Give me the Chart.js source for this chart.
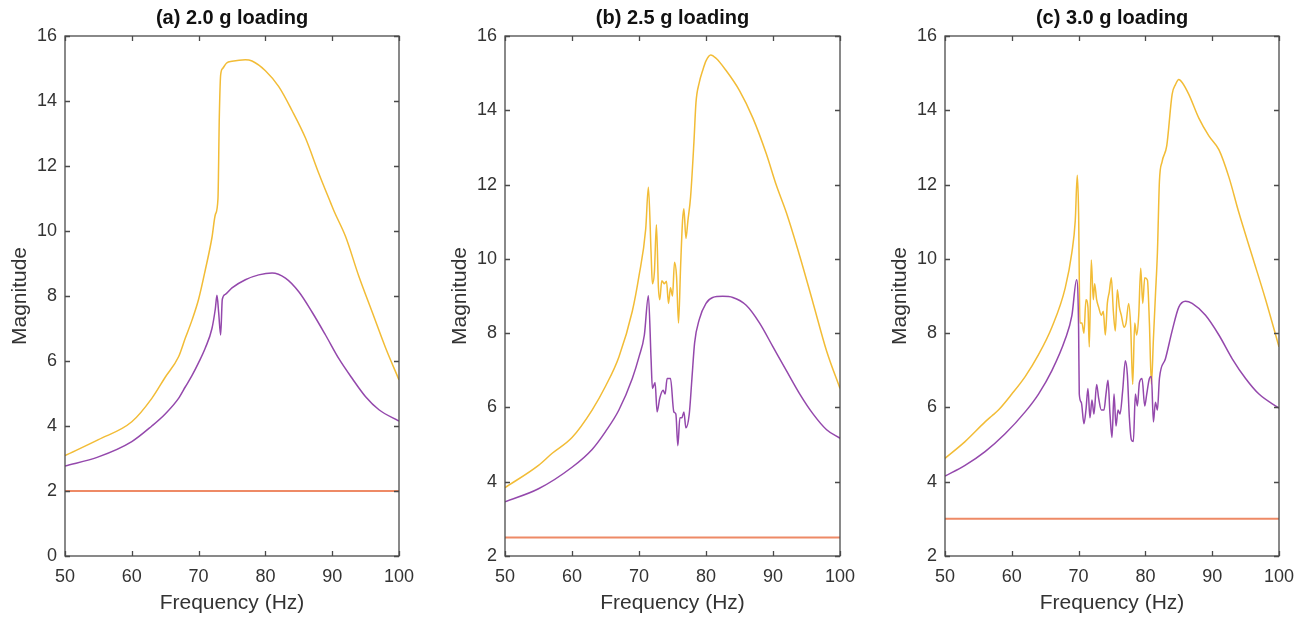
<!DOCTYPE html>
<html>
<head>
<meta charset="utf-8">
<title>Magnitude vs frequency</title>
<script src="https://cdn.jsdelivr.net/npm/chart.js@4.4.0/dist/chart.umd.min.js"></script>
<style>
  html, body { margin: 0; padding: 0; background: #fff; }
  #wrap { position: relative; width: 1308px; height: 619px; overflow: hidden; }
  .panel { position: absolute; top: 0; height: 619px; }
</style>
</head>
<body>
<div id="wrap">
  <div class="panel" style="left:0;width:429px"><canvas id="chartA"></canvas></div>
  <div class="panel" style="left:440px;width:430px"><canvas id="chartB"></canvas></div>
  <div class="panel" style="left:880px;width:429px"><canvas id="chartC"></canvas></div>
</div>
<script>
// Panel titles and loading level (flat reference line)
const panelTitles = ['(a) 2.0 g loading', '(b) 2.5 g loading', '(c) 3.0 g loading'];
const loadLevels = [2.0, 2.5, 3.0];
const yMins = [0, 2, 2];
const yMax = 16;
const xTicks = [50, 60, 70, 80, 90, 100];

// (a) 2.0 g
const freqA1 = [50, 55, 60, 63, 65, 67, 68, 69, 70, 71, 72, 72.5, 72.9, 73.1, 73.3, 73.6, 74.2, 75, 77, 78, 80, 82, 84, 86, 88, 89.8, 90.3, 92, 94, 96, 98, 100];
const magA1  = [3.09, 3.58, 4.13, 4.85, 5.5, 6.13, 6.7, 7.25, 7.9, 8.8, 9.8, 10.5, 11.0, 13.5, 14.8, 15.0, 15.17, 15.22, 15.27, 15.23, 14.93, 14.44, 13.7, 12.86, 11.77, 10.85, 10.6, 9.83, 8.6, 7.5, 6.4, 5.42];
const freqA2 = [50, 55, 60, 63, 65, 67, 68, 69, 70, 71, 72, 72.5, 72.75, 73.0, 73.3, 73.55, 74, 75, 77, 79, 81, 83, 85, 87, 89, 91, 93, 95, 97, 100];
const magA2  = [2.77, 3.05, 3.52, 4.0, 4.37, 4.85, 5.2, 5.55, 5.95, 6.4, 7.0, 7.6, 8.02, 7.5, 6.8, 7.9, 8.05, 8.25, 8.5, 8.65, 8.71, 8.55, 8.13, 7.5, 6.8, 6.07, 5.46, 4.9, 4.5, 4.15];

// (b) 2.5 g
const freqB1 = [50, 55, 57, 60, 63, 65, 67, 69, 70, 71, 71.4, 71.8, 72.0, 72.3, 72.6, 72.9, 73.1, 73.4, 73.8, 74.1, 74.4, 74.7, 75.0, 75.3, 75.6, 75.9, 76.2, 76.5, 76.7, 77.0, 77.3, 77.7, 78.2, 78.5, 79.0, 79.5, 80.0, 80.7, 81.5, 83, 85, 87, 89, 90.5, 92, 94, 96, 98, 100];
const magB1  = [3.84, 4.44, 4.76, 5.19, 5.93, 6.57, 7.36, 8.59, 9.54, 10.8, 11.93, 10.18, 9.33, 9.65, 10.92, 9.22, 8.9, 9.41, 9.33, 9.4, 8.8, 9.22, 9.0, 9.91, 9.54, 8.27, 9.75, 11.03, 11.35, 10.55, 11.03, 11.67, 13.15, 14.2, 14.75, 15.07, 15.33, 15.49, 15.4, 15.07, 14.53, 13.79, 12.83, 11.98, 11.24, 10.07, 8.8, 7.52, 6.51];
const freqB2 = [50, 55, 60, 63, 65, 67, 69, 70, 70.8, 71.4, 71.8, 72.0, 72.4, 72.7, 73.1, 73.6, 73.9, 74.2, 74.7, 75.2, 75.5, 75.8, 76.1, 76.4, 76.7, 77.0, 77.5, 77.9, 78.3, 79, 80, 81, 82.5, 84, 86, 88, 90, 92, 94, 96, 98, 100];
const magB2  = [3.46, 3.81, 4.39, 4.87, 5.35, 5.93, 6.78, 7.36, 7.95, 9.01, 7.31, 6.51, 6.67, 5.88, 6.25, 6.46, 6.36, 6.78, 6.78, 5.88, 5.82, 4.97, 5.72, 5.72, 5.88, 5.45, 5.82, 6.78, 7.74, 8.37, 8.8, 8.96, 8.99, 8.96, 8.75, 8.27, 7.63, 6.99, 6.36, 5.82, 5.4, 5.17];

// (c) 3.0 g
const freqC1 = [50, 53, 56, 57, 58, 60, 62, 64, 66, 68, 69, 69.5, 69.8, 70.0, 70.2, 70.5, 70.8, 71.1, 71.4, 71.6, 71.9, 72.2, 72.4, 72.7, 73.0, 73.4, 73.7, 74.0, 74.3, 74.6, 74.9, 75.2, 75.5, 75.8, 76.1, 76.4, 76.8, 77.1, 77.5, 77.8, 78.1, 78.4, 78.7, 79.0, 79.3, 79.6, 79.9, 80.3, 80.6, 80.9, 81.2, 81.5, 81.8, 82.1, 82.5, 83.2, 84, 84.5, 85, 85.5, 86.5, 88, 89.5, 91, 92.5, 94, 96, 98, 100];
const magC1  = [4.63, 5.08, 5.61, 5.77, 5.93, 6.36, 6.83, 7.42, 8.16, 9.22, 10.18, 11.03, 12.25, 11.24, 8.27, 8.27, 8.0, 8.9, 8.7, 7.63, 9.97, 8.9, 9.33, 8.9, 8.7, 8.48, 8.59, 7.95, 8.8, 9.12, 9.49, 8.59, 8.06, 9.17, 8.7, 8.48, 8.16, 8.27, 8.8, 8.16, 6.62, 8.27, 7.95, 8.48, 9.75, 8.8, 9.49, 9.43, 8.27, 6.62, 7.84, 9.01, 10.18, 12.09, 12.62, 13.05, 14.43, 14.69, 14.83, 14.75, 14.43, 13.79, 13.31, 12.94, 12.2, 11.24, 10.07, 8.9, 7.63];
const freqC2 = [50, 53, 56, 59, 62, 64, 66, 68, 69, 69.7, 70.0, 70.1, 70.4, 70.8, 71.1, 71.4, 71.7, 72.0, 72.3, 72.7, 73.0, 73.4, 73.8, 74.1, 74.4, 74.7, 75.0, 75.3, 75.6, 75.9, 76.2, 76.6, 77.0, 77.3, 77.6, 77.9, 78.2, 78.5, 78.8, 79.1, 79.5, 79.9, 80.2, 80.6, 80.9, 81.2, 81.5, 81.8, 82.1, 83, 84, 85, 86, 87, 89, 91, 93, 95, 97, 100];
const magC2  = [4.15, 4.44, 4.81, 5.29, 5.88, 6.36, 6.99, 7.84, 8.48, 9.44, 8.16, 6.36, 6.14, 5.56, 5.93, 6.51, 5.72, 6.2, 5.82, 6.62, 6.25, 5.93, 5.93, 6.36, 6.73, 5.82, 5.19, 6.36, 5.5, 5.93, 5.82, 6.46, 7.26, 6.88, 5.72, 5.13, 5.08, 6.36, 6.04, 6.67, 6.78, 6.04, 6.36, 6.78, 6.83, 5.61, 6.14, 5.93, 6.78, 7.31, 8.06, 8.7, 8.86, 8.8, 8.48, 7.95, 7.31, 6.78, 6.36, 5.98];

const lineColors = {
  upper: '#F2BC36',
  lower: '#9448AC',
  level: '#EE8A66'
};
const textColor = '#333333';
const axisColor = '#4a4a4a';
const fontFamily = "'Liberation Sans', Arial, Helvetica, sans-serif";

function pairs(xs, ys) {
  return xs.map((x, i) => ({ x: x, y: ys[i] }));
}

// MATLAB style box with inward ticks on all four sides
const boxPlugin = {
  id: 'boxPlugin',
  afterDatasetsDraw(chart) {
    const { ctx, chartArea: a, scales } = chart;
    ctx.save();
    ctx.strokeStyle = axisColor;
    ctx.lineWidth = 1.3;
    ctx.strokeRect(a.left, a.top, a.right - a.left, a.bottom - a.top);
    ctx.beginPath();
    scales.x.ticks.forEach(t => {
      const px = Math.round(scales.x.getPixelForValue(t.value)) + 0.5;
      ctx.moveTo(px, a.bottom); ctx.lineTo(px, a.bottom - 5);
      ctx.moveTo(px, a.top); ctx.lineTo(px, a.top + 5);
    });
    scales.y.ticks.forEach(t => {
      const py = Math.round(scales.y.getPixelForValue(t.value)) + 0.5;
      ctx.moveTo(a.left, py); ctx.lineTo(a.left + 5, py);
      ctx.moveTo(a.right, py); ctx.lineTo(a.right - 5, py);
    });
    ctx.stroke();
    ctx.restore();
  }
};

function makeChart(id, idx, f1, m1, f2, m2) {
  const level = loadLevels[idx];
  new Chart(document.getElementById(id), {
    type: 'line',
    data: {
      datasets: [{
        data: pairs([xTicks[0], xTicks[xTicks.length - 1]], [level, level]),
        borderColor: lineColors.level,
        borderWidth: 2
      }, {
        data: pairs(f2, m2),
        borderColor: lineColors.lower,
        borderWidth: 1.5,
        cubicInterpolationMode: 'monotone'
      }, {
        data: pairs(f1, m1),
        borderColor: lineColors.upper,
        borderWidth: 1.5,
        cubicInterpolationMode: 'monotone'
      }]
    },
    options: {
      responsive: true,
      maintainAspectRatio: false,
      animation: false,
      events: [],
      layout: { padding: { left: 0, right: 30, top: 0, bottom: 0 } },
      elements: { point: { radius: 0 } },
      plugins: {
        legend: { display: false },
        tooltip: { enabled: false },
        title: {
          display: true,
          text: panelTitles[idx],
          fullSize: false,
          color: '#111',
          font: { family: fontFamily, size: 20, weight: 'bold' },
          padding: { top: 6, bottom: 6 }
        }
      },
      scales: {
        x: {
          type: 'linear',
          min: xTicks[0],
          max: xTicks[xTicks.length - 1],
          afterFit: s => { s.height = 63; },
          afterBuildTicks: s => { s.ticks = xTicks.map(v => ({ value: v })); },
          grid: { display: false, drawTicks: false },
          border: { display: false },
          ticks: {
            color: textColor,
            padding: 10,
            maxRotation: 0,
            font: { family: fontFamily, size: 18 }
          },
          title: {
            display: true,
            text: 'Frequency (Hz)',
            color: textColor,
            font: { family: fontFamily, size: 21 },
            padding: { top: 0, bottom: 3 }
          }
        },
        y: {
          min: yMins[idx],
          max: yMax,
          afterFit: s => { s.width = 65; },
          grid: { display: false, drawTicks: false },
          border: { display: false },
          ticks: {
            stepSize: 2,
            color: textColor,
            padding: 8,
            font: { family: fontFamily, size: 18 }
          },
          title: {
            display: true,
            text: 'Magnitude',
            color: textColor,
            font: { family: fontFamily, size: 21 },
            padding: { top: 8, bottom: 0 }
          }
        }
      }
    },
    plugins: [boxPlugin]
  });
}

makeChart('chartA', 0, freqA1, magA1, freqA2, magA2);
makeChart('chartB', 1, freqB1, magB1, freqB2, magB2);
makeChart('chartC', 2, freqC1, magC1, freqC2, magC2);
</script>
</body>
</html>
